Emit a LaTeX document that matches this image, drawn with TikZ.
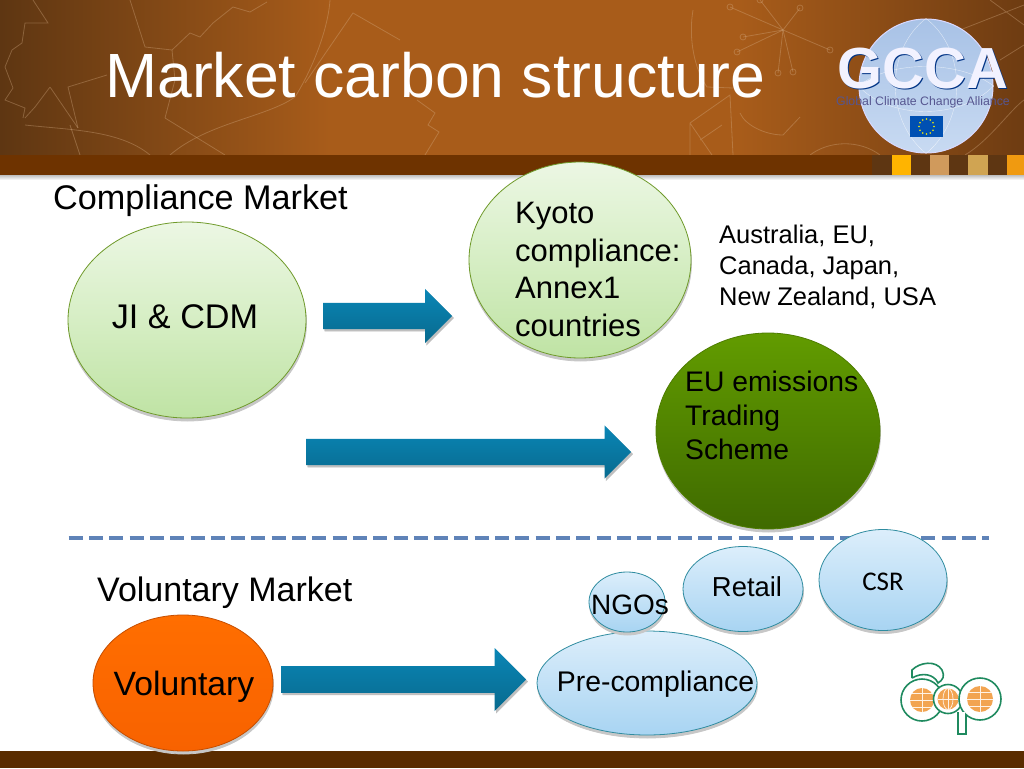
\documentclass[tikz,border=0pt]{standalone}
\usepackage{fontspec}
\setmainfont{Liberation Sans}
\newfontfamily\calibrifont{Carlito}
\usetikzlibrary{positioning}
\usetikzlibrary{shapes.geometric}
\usetikzlibrary{shapes.arrows}
\usetikzlibrary{shadows}
\definecolor{bandbrown}{HTML}{6E3300}
\definecolor{footbrown}{HTML}{5A2C00}
\definecolor{headleft}{HTML}{5E3612}
\definecolor{headmid}{HTML}{A85C1A}
\definecolor{headright}{HTML}{6E3C12}
\definecolor{leafline}{HTML}{D8B088}
\definecolor{greentop}{HTML}{ECF7E4}
\definecolor{greenmid}{HTML}{D6EEC4}
\definecolor{greenbot}{HTML}{BFE3A4}
\definecolor{greenrim}{HTML}{6F9A2A}
\definecolor{etstop}{HTML}{629C00}
\definecolor{etsbot}{HTML}{3F6A00}
\definecolor{bluetop}{HTML}{DCEEFB}
\definecolor{bluebot}{HTML}{A8D4F2}
\definecolor{bluerim}{HTML}{2F8CA0}
\definecolor{globetop}{HTML}{A8C2E6}
\definecolor{globebot}{HTML}{C8DAF2}
\definecolor{voltop}{HTML}{FF6E00}
\definecolor{volbot}{HTML}{F86200}
\definecolor{arrowtop}{HTML}{0A86B6}
\definecolor{arrowbot}{HTML}{086A8E}
\definecolor{dashblue}{HTML}{5F83B8}
\definecolor{acpgreen}{HTML}{1F8A5F}
\definecolor{acporange}{HTML}{F2A451}
\newcommand{\fsize}[2]{\fontsize{#1}{#2}\selectfont}
\begin{document}
\begin{tikzpicture}[x=1pt, y=-1pt,
    bubble/.style = {draw, ellipse, inner sep=0pt, line width=0.8pt, copy shadow={shadow xshift=0.5pt, shadow yshift=-3pt, fill=black!22, draw=black!22}},
    greenbubble/.style = {bubble, draw=greenrim, top color=greentop, bottom color=greenbot, middle color=greenmid},
    bluebubble/.style = {bubble, draw=bluerim, top color=bluetop, bottom color=bluebot},
    blockarrow/.style = {single arrow, inner sep=0pt, inner ysep=13pt, anchor=tail, single arrow tip angle=90, top color=arrowtop, bottom color=arrowbot, copy shadow={shadow xshift=1.5pt, shadow yshift=-2pt, fill=black!25, draw=black!25}},
    txt/.style = {inner sep=0pt, align=left, anchor=west},
    leaf/.style = {draw=leafline, line width=0.8pt, opacity=0.35}]
    \useasboundingbox (0,0) rectangle (1024,768);
    \fill[white] (0,0) rectangle (1024,768);

    % header
    \shade[left color=headleft, right color=headmid] (0,0) rectangle (330,160);
    \fill[headmid] (329,0) rectangle (740,160);
    \shade[left color=headmid, right color=headright] (739,0) rectangle (1024,160);
    \draw[leaf] (33,0) -- (48,23) -- (25,23) -- (22,43) -- (12,50) -- (5,67) -- (13,88) -- (5,100) -- (25,108) -- (23,118);
    \draw[leaf] (130,0) -- (145,47) -- (172,50) -- (190,33) -- (200,37) -- (213,23) -- (233,7) -- (250,12) -- (267,2);
    \draw[leaf] (172,50) -- (175,80) -- (165,118);
    \draw[leaf] (170,155) .. controls (207,123) and (267,117) .. (295,97) .. controls (312,70) and (328,30) .. (330,0);
    \draw[leaf] (50,87) -- (78,128) (50,87) -- (35,107) -- (25,118);
    \draw[leaf] (107,75) -- (68,87) -- (78,128);
    \draw[leaf] (25,125) .. controls (70,130) and (120,130) .. (150,155);
    \draw[leaf] (165,118) -- (225,155) (70,125) -- (80,155);
    \draw[leaf] (305,83) -- (353,13) -- (400,40);
    \draw[leaf] (417,100) -- (435,113) -- (428,125) -- (439,132) -- (425,155);
    \draw[leaf] (693,10) .. controls (688,40) and (695,70) .. (707,87) -- (733,88);
    \draw[leaf] (690,155) -- (690,123) -- (730,95) -- (733,155) (690,123) -- (712,155) (700,140) -- (722,125);
    \draw[leaf] (740,113) .. controls (745,125) and (765,135) .. (783,135) -- (800,117);
    \foreach \sx/\sy in {730/7, 743/37, 737/52, 778/73, 793/72, 760/0, 830/50, 800/8} {
        \draw[leaf] (783,30) -- (\sx,\sy);
        \draw[leaf] (\sx,\sy) circle (3);
    }
    \draw[leaf] (810,155) .. controls (830,140) and (860,140) .. (880,155);
    \draw[leaf] (965,155) .. controls (990,140) and (1010,110) .. (1024,100);
    \draw[leaf] (960,30) -- (1024,5) (1000,60) -- (1024,45) (990,0) -- (1024,25);
    \fill[bandbrown] (0,155) rectangle (872,175);
    \fill[headleft] (872,155) rectangle (1024,175);
    \foreach \xa/\xb/\col in {892/911/FFB400, 930/949/D09A5C, 968/988/D0A452, 1007/1024/F09A10} {
        \definecolor{sqcol}{HTML}{\col}
        \fill[sqcol] (\xa,155) rectangle (\xb,175);
    }
    \shade[top color=black!25, bottom color=white] (0,175) rectangle (1024,180);
    \fill[footbrown] (0,751) rectangle (1024,768);
    \node[inner sep=0pt, anchor=base west, text=white, font=\fsize{62.5}{70}] (title) at (105,97) {Market carbon structure};

    % globe logo
    \node[circle, minimum size=134pt, inner sep=0pt, draw=white!85!blue, line width=1pt, top color=globetop, bottom color=globebot] (globe) at (926,86) {};
    \draw[white, opacity=0.6] (globe.north) .. controls (885,50) and (885,120) .. (globe.south);
    \draw[white, opacity=0.6] (globe.north) .. controls (967,50) and (967,120) .. (globe.south);
    \draw[white, opacity=0.6] (globe.west) .. controls (890,60) and (960,60) .. (globe.east);
    \draw[white, opacity=0.6] (globe.west) .. controls (890,120) and (960,120) .. (globe.east);
    \node[inner sep=0pt, anchor=base, text depth=0pt, text=blue!40!black!80!cyan, font=\fsize{58}{60}\bfseries] (gccashadow) at (924,89.5) {GCCA};
    \node[inner sep=0pt, anchor=base, text depth=0pt, text=white!95!blue, font=\fsize{58}{60}\bfseries] (gcca) at (922.5,88) {GCCA};
    \node[inner sep=0pt, anchor=base, text=blue!25!gray!90!black, font=\fsize{12.3}{13}] (gccasub) at (923,105) {Global Climate Change Alliance};
    \node[inner sep=0pt, fill=blue!55!cyan!70!black, minimum width=33pt, minimum height=21pt] (flag) at (926.5,126.5) {};
    \foreach \a in {0,30,...,330} {
        \fill[yellow] (flag.center) ++(\a:7.5) circle (0.8);
    }

    % compliance
    \node[txt, anchor=base west, font=\fsize{34.2}{38}] (complabel) at (53,209) {Compliance Market};
    \node[greenbubble, minimum width=238pt, minimum height=196pt] (ji) at (187,320) {};
    \node[txt, anchor=center, font=\fsize{34.2}{38}] (jitext) at (185,317) {JI \& CDM};
    \node[greenbubble, minimum width=222pt, minimum height=196pt] (kyoto) at (580,260) {};
    \node[txt, font=\fsize{31}{37.7}] (kyototext) at (515,269.5) {Kyoto\\compliance:\\Annex1\\countries};
    \node[txt, font=\fsize{25.5}{31}] (countries) at (719,267) {Australia, EU,\\Canada, Japan,\\New Zealand, USA};
    \node[bubble, draw=etstop!80!black, top color=etstop, bottom color=etsbot, minimum width=224pt, minimum height=196pt] (ets) at (768,431) {};
    \node[txt, font=\fsize{28.3}{34}] (etstext) at (685,415) {EU emissions\\Trading\\Scheme};
    \node[blockarrow, minimum height=129pt, minimum width=54pt, single arrow head extend=14pt] (arrowji) at (323,316) {};
    \node[blockarrow, minimum height=325pt, minimum width=53pt, single arrow head extend=13.5pt] (arrowets) at (306,452) {};

    % divider
    \node[inner sep=0pt] (lineleft) at (68,538) {};
    \node[inner sep=0pt] (lineright) at (990,538) {};
    \draw[dashblue, line width=4pt, dash pattern=on 14pt off 6.3pt] (lineleft) -- (lineright);

    % voluntary
    \node[txt, anchor=base west, font=\fsize{34}{38}] (vollabel) at (97,601) {Voluntary Market};
    \node[bubble, draw=volbot!80!black, top color=voltop, bottom color=volbot, minimum width=180pt, minimum height=136pt] (vol) at (183,683) {};
    \node[txt, anchor=center, font=\fsize{33.7}{38}] (voltext) at (184,687) {Voluntary};
    \node[blockarrow, minimum height=245pt, minimum width=63pt, single arrow head extend=18pt] (arrowvol) at (281,679.5) {};
    \node[bluebubble, minimum width=220pt, minimum height=104pt] (pre) at (647,683) {};
    \node[txt, anchor=center, font=\fsize{28.4}{32}] (pretext) at (655.5,684) {Pre-compliance};
    \node[bluebubble, minimum width=76pt, minimum height=60pt] (ngo) at (627,602) {};
    \node[txt, anchor=center, font=\fsize{28}{32}] (ngotext) at (630,605) {NGOs};
    \node[bluebubble, minimum width=120pt, minimum height=85pt] (retail) at (743,589) {};
    \node[txt, anchor=center, font=\fsize{27.4}{32}] (retailtext) at (747,587) {Retail};
    \node[bluebubble, minimum width=128pt, minimum height=101pt] (csr) at (883,580) {};
    \node[txt, anchor=center, font=\calibrifont\fsize{27}{32}] (csrtext) at (883,582) {CSR};

    % acp logo
    \draw[acpgreen, line width=1.6pt, fill=white] (912,678) -- (912,670) .. controls (920,662) and (936,660) .. (942,670) .. controls (945,676) and (943,680) .. (938,683) .. controls (934,674) and (922,672) .. (912,678);
    \draw[acpgreen, line width=1.6pt, fill=white] (922,700) circle (21);
    \fill[acporange] (922,700) circle (12);
    \draw[white!90!orange, line width=0.7pt] (910,700) -- (934,700) (922,688) -- (922,712) (912,693) -- (932,693) (912,707) -- (932,707);
    \draw[acpgreen, line width=1.6pt, fill=white] (948,699) circle (14.5);
    \fill[acporange] (948,699) circle (10.5);
    \draw[white!90!orange, line width=0.7pt] (937.5,699) -- (958.5,699) (948,688.5) -- (948,709.5);
    \draw[white!90!orange, line width=0.7pt] (948,699) ellipse (5 and 10.5);
    \draw[acpgreen, line width=1.6pt, fill=white] (958,712) -- (958,734) -- (966,734) -- (966,712);
    \draw[acpgreen, line width=1.6pt, fill=white] (980,699) circle (21);
    \fill[white] (958.8,712) rectangle (965.2,722);
    \fill[acporange] (980,699) circle (13);
    \draw[white!90!orange, line width=0.7pt] (967,699) -- (993,699) (980,686) -- (980,712) (969,692) -- (991,692) (969,706) -- (991,706);
\end{tikzpicture}
\end{document}
